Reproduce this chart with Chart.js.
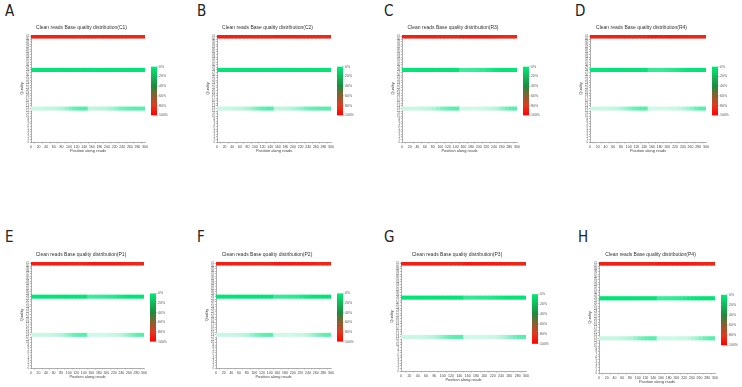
<!DOCTYPE html>
<html><head><meta charset="utf-8">
<script src="https://cdn.jsdelivr.net/npm/chart.js@4.4.0/dist/chart.umd.min.js"></script>
<style>
html,body{margin:0;padding:0;background:#fff;width:742px;height:387px;overflow:hidden;position:relative;font-family:'Liberation Sans',Arial,sans-serif}
canvas{position:absolute}
.letter{position:absolute;font-family:'Liberation Sans Narrow','DejaVu Sans Condensed','Liberation Sans',sans-serif;font-size:15px;color:#222;line-height:1}
</style></head><body>
<script>
// ---------------- data ----------------
const positions = [5,15,25,35,45,55,65,75,85,95,105,115,125,135,145,155,165,175,185,195,205,215,225,235,245,255,265,275,285,295];
const qualityLevels = [41, 28, 13];
const sampleNames = ['C1','C2','R3','R4','P1','P2','P3','P4'];
const panelLetters = ['A','B','C','D','E','F','G','H'];
const colorbarLabels = ['0%','20%','40%','60%','80%','100%'];

// percentage of bases at each quality level, per position bin
const top_C1 = [90.8,90.8,90.7,90.6,90.5,90.4,90.2,90.0,89.6,89.1,88.4,87.9,87.5,87.3,87.3,90.8,90.8,90.7,90.5,90.4,90.1,89.8,89.2,88.7,88.3,88.1,87.8,87.7,87.7,87.7];
const mid_C1 = [8.2,8.2,8.3,8.3,8.4,8.4,8.5,8.5,8.6,8.6,8.7,8.7,8.8,8.8,8.8,8.0,8.0,8.0,8.1,8.1,8.2,8.2,8.3,8.3,8.4,8.4,8.5,8.5,8.5,8.5];
const low_C1 = [1.0,1.0,1.0,1.1,1.1,1.2,1.3,1.5,1.8,2.3,2.9,3.4,3.7,3.9,3.9,1.2,1.2,1.3,1.4,1.5,1.7,2.0,2.5,3.0,3.3,3.5,3.7,3.8,3.8,3.8];

const top_C2 = [90.9,90.9,90.8,90.7,90.6,90.4,90.2,89.9,89.5,89.0,88.4,87.9,87.5,87.3,87.3,90.9,90.8,90.7,90.5,90.3,90.0,89.7,89.2,88.7,88.3,88.1,87.8,87.7,87.7,87.7];
const mid_C2 = [8.1,8.1,8.2,8.2,8.3,8.4,8.5,8.5,8.6,8.6,8.7,8.7,8.8,8.8,8.8,7.9,8.0,8.0,8.1,8.2,8.2,8.2,8.3,8.3,8.4,8.4,8.5,8.5,8.5,8.5];
const low_C2 = [1.0,1.0,1.0,1.1,1.1,1.2,1.3,1.6,1.9,2.4,2.9,3.4,3.7,3.9,3.9,1.2,1.2,1.3,1.4,1.5,1.8,2.1,2.5,3.0,3.3,3.5,3.7,3.8,3.8,3.8];

const top_R3 = [91.0,91.0,91.0,91.0,91.0,90.8,90.7,90.5,90.1,89.6,89.0,88.4,88.1,87.9,87.9,94.2,94.2,94.1,94.0,93.8,93.4,93.0,92.5,91.8,91.0,90.1,89.2,88.5,88.0,87.9];
const mid_R3 = [8.0,8.0,8.0,8.0,8.0,8.1,8.1,8.1,8.2,8.2,8.2,8.3,8.3,8.3,8.3,5.0,5.0,5.1,5.2,5.4,5.7,6.0,6.5,7.0,7.5,7.9,8.1,8.2,8.3,8.3];
const low_R3 = [1.0,1.0,1.0,1.0,1.0,1.1,1.2,1.4,1.7,2.2,2.8,3.3,3.6,3.8,3.8,0.8,0.8,0.8,0.8,0.8,0.9,1.0,1.0,1.2,1.5,2.0,2.7,3.3,3.7,3.8];

const top_R4 = [91.1,91.1,91.0,91.0,90.9,90.8,90.6,90.4,90.0,89.5,88.9,88.4,88.1,87.9,87.9,93.9,93.9,93.8,93.7,93.5,93.2,92.8,92.3,91.6,90.8,90.0,89.2,88.5,88.0,87.9];
const mid_R4 = [7.9,7.9,8.0,8.0,8.1,8.1,8.2,8.2,8.2,8.3,8.3,8.3,8.3,8.3,8.3,5.3,5.3,5.4,5.5,5.7,5.9,6.2,6.7,7.2,7.6,7.9,8.1,8.2,8.3,8.3];
const low_R4 = [1.0,1.0,1.0,1.0,1.0,1.1,1.2,1.4,1.8,2.2,2.8,3.3,3.6,3.8,3.8,0.8,0.8,0.8,0.8,0.8,0.9,1.0,1.0,1.2,1.6,2.1,2.7,3.3,3.7,3.8];

const top_P1 = [91.0,91.0,91.0,91.0,90.9,90.8,90.7,90.5,90.1,89.6,89.0,88.5,88.1,87.9,87.9,94.0,94.0,93.9,93.8,93.6,93.3,92.9,92.4,91.7,90.9,90.0,89.2,88.5,88.0,87.9];
const mid_P1 = [8.0,8.0,8.0,8.0,8.1,8.1,8.1,8.1,8.2,8.2,8.2,8.2,8.3,8.3,8.3,5.2,5.2,5.3,5.4,5.6,5.8,6.1,6.6,7.1,7.5,7.9,8.1,8.2,8.3,8.3];
const low_P1 = [1.0,1.0,1.0,1.0,1.0,1.1,1.2,1.4,1.7,2.2,2.8,3.3,3.6,3.8,3.8,0.8,0.8,0.8,0.8,0.8,0.9,1.0,1.0,1.2,1.6,2.1,2.7,3.3,3.7,3.8];

const top_P2 = [91.0,91.0,91.0,91.0,90.9,90.8,90.7,90.5,90.1,89.6,89.0,88.5,88.1,87.9,87.9,93.8,93.8,93.7,93.6,93.4,93.1,92.8,92.3,91.6,90.9,90.0,89.2,88.5,88.0,87.9];
const mid_P2 = [8.0,8.0,8.0,8.0,8.1,8.1,8.1,8.1,8.2,8.2,8.2,8.2,8.3,8.3,8.3,5.4,5.4,5.5,5.6,5.8,6.0,6.2,6.7,7.2,7.5,7.9,8.1,8.2,8.3,8.3];
const low_P2 = [1.0,1.0,1.0,1.0,1.0,1.1,1.2,1.4,1.7,2.2,2.8,3.3,3.6,3.8,3.8,0.8,0.8,0.8,0.8,0.8,0.9,1.0,1.0,1.2,1.6,2.1,2.7,3.3,3.7,3.8];

const top_P3 = [91.0,91.0,91.0,91.0,90.9,90.8,90.7,90.5,90.1,89.6,89.0,88.5,88.1,87.9,87.9,93.6,93.6,93.5,93.4,93.2,93.0,92.7,92.2,91.6,90.9,90.0,89.2,88.5,88.0,87.9];
const mid_P3 = [8.0,8.0,8.0,8.0,8.1,8.1,8.1,8.1,8.2,8.2,8.2,8.2,8.3,8.3,8.3,5.6,5.6,5.7,5.8,6.0,6.1,6.3,6.8,7.2,7.5,7.9,8.1,8.2,8.3,8.3];
const low_P3 = [1.0,1.0,1.0,1.0,1.0,1.1,1.2,1.4,1.7,2.2,2.8,3.3,3.6,3.8,3.8,0.8,0.8,0.8,0.8,0.8,0.9,1.0,1.0,1.2,1.6,2.1,2.7,3.3,3.7,3.8];

const top_P4 = [91.0,91.0,91.0,91.0,90.9,90.8,90.7,90.5,90.1,89.6,89.0,88.5,88.1,87.9,87.9,94.0,94.0,93.9,93.8,93.6,93.3,92.9,92.4,91.7,90.9,90.0,89.2,88.5,88.0,87.9];
const mid_P4 = [8.0,8.0,8.0,8.0,8.1,8.1,8.1,8.1,8.2,8.2,8.2,8.2,8.3,8.3,8.3,5.2,5.2,5.3,5.4,5.6,5.8,6.1,6.6,7.1,7.5,7.9,8.1,8.2,8.3,8.3];
const low_P4 = [1.0,1.0,1.0,1.0,1.0,1.1,1.2,1.4,1.7,2.2,2.8,3.3,3.6,3.8,3.8,0.8,0.8,0.8,0.8,0.8,0.9,1.0,1.0,1.2,1.6,2.1,2.7,3.3,3.7,3.8];

const seriesBySample = {
  C1:[top_C1,mid_C1,low_C1], C2:[top_C2,mid_C2,low_C2], R3:[top_R3,mid_R3,low_R3], R4:[top_R4,mid_R4,low_R4],
  P1:[top_P1,mid_P1,low_P1], P2:[top_P2,mid_P2,low_P2], P3:[top_P3,mid_P3,low_P3], P4:[top_P4,mid_P4,low_P4]
};

// ---------------- styling / layout ----------------
const panelLayout = [
  {plotLeft:31,  plotRight:145, chartTop:34.5,  chartBottom:141.7, lx:5,   ly:4},
  {plotLeft:217, plotRight:331, chartTop:34.5,  chartBottom:141.7, lx:197, ly:4},
  {plotLeft:402, plotRight:517, chartTop:34.5,  chartBottom:141.7, lx:384, ly:4},
  {plotLeft:590, plotRight:706, chartTop:34.5,  chartBottom:141.7, lx:575, ly:4},
  {plotLeft:31,  plotRight:144, chartTop:261.5, chartBottom:367.7, lx:5,   ly:230},
  {plotLeft:216, plotRight:331, chartTop:261.5, chartBottom:367.7, lx:197, ly:230},
  {plotLeft:401, plotRight:526, chartTop:261.5, chartBottom:370,   lx:384, ly:230},
  {plotLeft:599, plotRight:715, chartTop:261.5, chartBottom:372.7, lx:578, ly:230}
];
const colorStops = [[0,[236,255,247]],[1,[200,247,228]],[4,[80,238,168]],[8,[0,230,118]],[40,[30,138,62]],[60,[139,94,46]],[80,[226,58,32]],[100,[255,10,10]]];
const colorbarStops = [[0,'#00ee78'],[0.2,'#12b85a'],[0.4,'#1e8a40'],[0.6,'#8a5e2e'],[0.8,'#e03a20'],[1,'#ff0000']];

function colorFor(v){
  for(let i=1;i<colorStops.length;i++){
    const [v1,c1]=colorStops[i];
    if(v<=v1){
      const [v0,c0]=colorStops[i-1];
      const t=(v-v0)/(v1-v0);
      const c=c0.map((a,k)=>Math.round(a+(c1[k]-a)*t));
      return `rgb(${c[0]},${c[1]},${c[2]})`;
    }
  }
  return 'rgb(255,10,10)';
}

const colorbarPlugin = {
  id:'colorbar',
  afterDraw(chart){
    const {ctx, chartArea:a} = chart;
    const x=a.right+6, w=6, h=(a.bottom-a.top)*0.455, y=(a.top+a.bottom)/2+2.5-h/2;
    const g=ctx.createLinearGradient(0,y,0,y+h);
    colorbarStops.forEach(([o,c])=>g.addColorStop(o,c));
    ctx.save();
    ctx.fillStyle=g; ctx.fillRect(x,y,w,h);
    ctx.font='3.5px "Liberation Sans", Arial, sans-serif';
    ctx.fillStyle='#555'; ctx.textBaseline='middle'; ctx.textAlign='left';
    ctx.strokeStyle='#888'; ctx.lineWidth=0.5;
    colorbarLabels.forEach((t,i)=>{
      const yy=y+h*i/(colorbarLabels.length-1);
      ctx.beginPath(); ctx.moveTo(x+w,yy); ctx.lineTo(x+w+1.5,yy); ctx.stroke();
      ctx.fillText(t,x+w+2,yy);
    });
    ctx.restore();
  }
};

const LEFT=31, RIGHT=36, TITLE_H=13, XAX_H=12;

sampleNames.forEach((name,i)=>{
  const L=panelLayout[i];
  const letter=document.createElement('div');
  letter.className='letter'; letter.textContent=panelLetters[i];
  letter.style.left=L.lx+'px'; letter.style.top=L.ly+'px';
  document.body.appendChild(letter);

  const cv=document.createElement('canvas');
  const W=Math.round(L.plotRight-L.plotLeft)+LEFT+RIGHT;
  const H=Math.round(L.chartBottom-L.chartTop)+TITLE_H+XAX_H;
  cv.width=W; cv.height=H;
  cv.style.width=W+'px'; cv.style.height=H+'px';
  cv.style.left=(L.plotLeft-LEFT)+'px'; cv.style.top=(L.chartTop-TITLE_H)+'px';
  document.body.appendChild(cv);

  const series=seriesBySample[name];
  const datasets=series.map((vals,k)=>({
    data:positions.map((p,j)=>({x:p,y:[qualityLevels[k]-0.65,qualityLevels[k]+0.65]})),
    backgroundColor:vals.map(colorFor),
    borderWidth:0,
    barPercentage:1,
    categoryPercentage:1,
    grouped:false
  }));

  new Chart(cv,{
    type:'bar',
    data:{datasets},
    plugins:[colorbarPlugin],
    options:{
      responsive:false, animation:false, devicePixelRatio:1,
      layout:{padding:{left:18,right:RIGHT,top:0,bottom:0}},
      plugins:{
        legend:{display:false}, tooltip:{enabled:false},
        title:{display:true,text:'Clean reads Base quality distribution('+name+')',
          font:{size:5,family:'Liberation Sans',weight:'normal'},color:'#333',padding:{top:3,bottom:4}}
      },
      scales:{
        x:{type:'linear',min:0,max:300,offset:false,
          afterFit:s=>{s.height=XAX_H;},
          ticks:{stepSize:20,autoSkip:false,maxRotation:0,font:{size:3.5,family:'Liberation Sans'},color:'#444',padding:1},
          grid:{display:true,drawOnChartArea:false,drawTicks:true,tickLength:1.5,color:'#777',lineWidth:0.5},
          border:{display:true,color:'#777',width:0.6},
          title:{display:true,text:'Position along reads',font:{size:4,family:'Liberation Sans'},color:'#444',padding:{top:0,bottom:0.5}}
        },
        y:{type:'linear',min:0,max:41.6,
          afterFit:s=>{s.width=LEFT-18;},
          ticks:{stepSize:1,autoSkip:false,includeBounds:false,font:{size:2.7,family:'Liberation Sans'},color:'#555',padding:0.8},
          grid:{display:true,drawOnChartArea:false,drawTicks:true,tickLength:1.2,color:'#777',lineWidth:0.5},
          border:{display:true,color:'#777',width:0.6},
          title:{display:true,text:'Quality',font:{size:4,family:'Liberation Sans'},color:'#444',padding:{top:1,bottom:0}}
        }
      }
    }
  });
});
</script>
</body></html>
